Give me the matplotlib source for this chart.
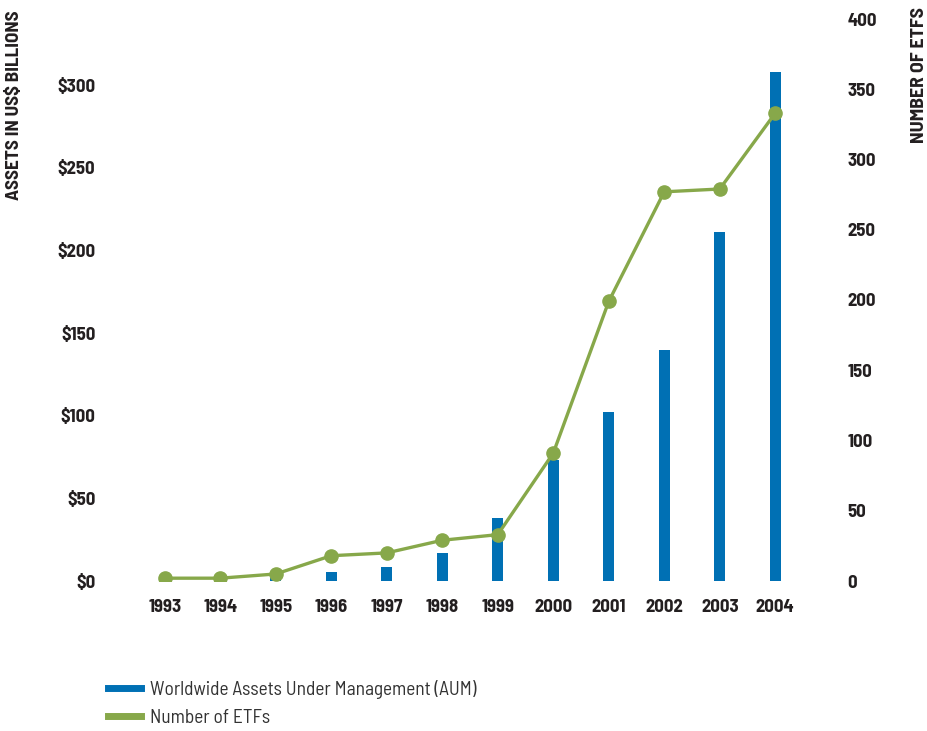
import matplotlib
matplotlib.use("Agg")
import matplotlib.pyplot as plt
from matplotlib.lines import Line2D

years = ["1993", "1994", "1995", "1996", "1997", "1998", "1999",
         "2000", "2001", "2002", "2003", "2004"]
aum_billions = [0.8, 1.0, 2.4, 5.4, 8.5, 17, 38, 73, 102, 140, 211, 308]
num_etfs = [2, 2, 5, 18, 20, 29, 33, 91, 199, 277, 279, 333]
left_ticks = [0, 50, 100, 150, 200, 250, 300]
left_labels = ["$0", "$50", "$100", "$150", "$200", "$250", "$300"]
right_ticks = [0, 50, 100, 150, 200, 250, 300, 350, 400]

BLUE = "#0070b4"
GREEN = "#87a84a"
TXT = "#231f20"
FONT = ["Barlow Semi Condensed", "DejaVu Sans"]

fig = plt.figure(figsize=(9.27, 7.31), dpi=100)
ax = fig.add_axes([137/927, 150/731, 666/927, 562/731])
ax2 = ax.twinx()

x = list(range(len(years)))
ax.bar(x, aum_billions, width=0.2, color=BLUE, zorder=2)
ax2.plot(x, num_etfs, color=GREEN, lw=2.4, marker="o", ms=9.5, zorder=3)

ax.set_xlim(-0.5, len(years) - 0.5)
ax.set_ylim(0, 340)
ax2.set_ylim(0, 400)

bold = dict(family=FONT, weight="bold", size=13.5)
ax.set_xticks(x)
ax.set_xticklabels(years, fontdict=bold, color=TXT)
ax.set_yticks(left_ticks)
ax.set_yticklabels(left_labels, fontdict=bold, color=TXT)
ax2.set_yticks(right_ticks)
ax2.set_yticklabels([str(t) for t in right_ticks], fontdict=bold, color=TXT)

ax.tick_params(axis="y", length=0, pad=30)
ax.tick_params(axis="x", length=0, pad=13)
ax2.tick_params(axis="y", length=0, pad=32)

for a in (ax, ax2):
    for s in a.spines.values():
        s.set_visible(False)

fig.text(15/927, 1 - 105/731, "ASSETS IN US$ BILLIONS", rotation=90,
         ha="center", va="center", family=FONT,
         weight="bold", size=13.8, color=TXT)
fig.text(920/927, 1 - 75/731, "NUMBER OF ETFS", rotation=90,
         ha="center", va="center", family=FONT,
         weight="bold", size=14.3, color=TXT)

handles = [Line2D([], [], color=BLUE, lw=5),
           Line2D([], [], color=GREEN, lw=5)]
labels = ["Worldwide Assets Under Management (AUM)", "Number of ETFs"]
leg = fig.legend(handles, labels, loc="upper left",
                 bbox_to_anchor=(108/927, 1 - 680/731),
                 frameon=False, borderpad=0, borderaxespad=0,
                 handlelength=1.7, handletextpad=0.5, labelspacing=0.5,
                 prop=dict(family=FONT, size=13.9))
for t in leg.get_texts():
    t.set_color("#333333")

fig.savefig("out.png", dpi=100)
